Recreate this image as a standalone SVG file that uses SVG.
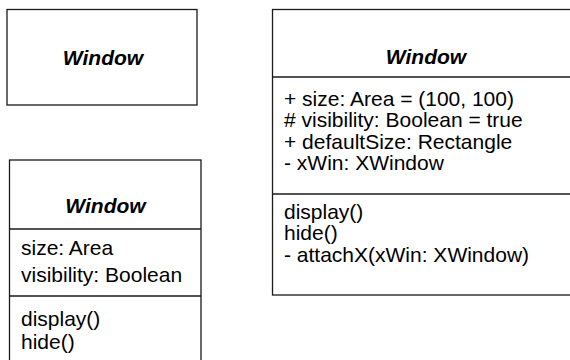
<svg xmlns="http://www.w3.org/2000/svg" width="570" height="360" viewBox="0 0 570 360">
<style>
.box{fill:#fff;stroke:#1a1a1a;stroke-width:1.3}
.sep{stroke:#1a1a1a;stroke-width:1.3;fill:none}
.t{font-family:"Liberation Sans",Arial,sans-serif;font-size:21px;fill:#000}
.n{font-family:"Liberation Sans",Arial,sans-serif;font-size:21px;font-weight:bold;font-style:italic;fill:#000;text-anchor:middle}
</style>
<rect width="570" height="360" fill="#fff"/>
<g id="window-simple">
<rect class="box" x="7" y="9.5" width="190" height="95.5"/>
<text class="n" x="103" y="65">Window</text>
</g>
<g id="window-full">
<rect class="box" x="272.5" y="9.5" width="310" height="285.5"/>
<line class="sep" x1="272.5" y1="77" x2="582" y2="77"/>
<line class="sep" x1="272.5" y1="194" x2="582" y2="194"/>
<text class="n" x="426" y="64">Window</text>
<text class="t" x="284" y="106">+ size: Area = (100, 100)</text>
<text class="t" x="284" y="127.3"># visibility: Boolean = true</text>
<text class="t" x="284" y="148.6">+ defaultSize: Rectangle</text>
<text class="t" x="284" y="170">- xWin: XWindow</text>
<text class="t" x="284" y="218.7">display()</text>
<text class="t" x="284" y="240.2">hide()</text>
<text class="t" x="284" y="261.7">- attachX(xWin: XWindow)</text>
</g>
<g id="window-attrs">
<rect class="box" x="9.5" y="160" width="191.5" height="220"/>
<line class="sep" x1="9.5" y1="229" x2="201" y2="229"/>
<line class="sep" x1="9.5" y1="296" x2="201" y2="296"/>
<text class="n" x="105.5" y="213.3">Window</text>
<text class="t" x="21" y="255">size: Area</text>
<text class="t" x="21" y="281.7">visibility: Boolean</text>
<text class="t" x="21" y="325.7">display()</text>
<text class="t" x="21" y="349">hide()</text>
</g>
</svg>
